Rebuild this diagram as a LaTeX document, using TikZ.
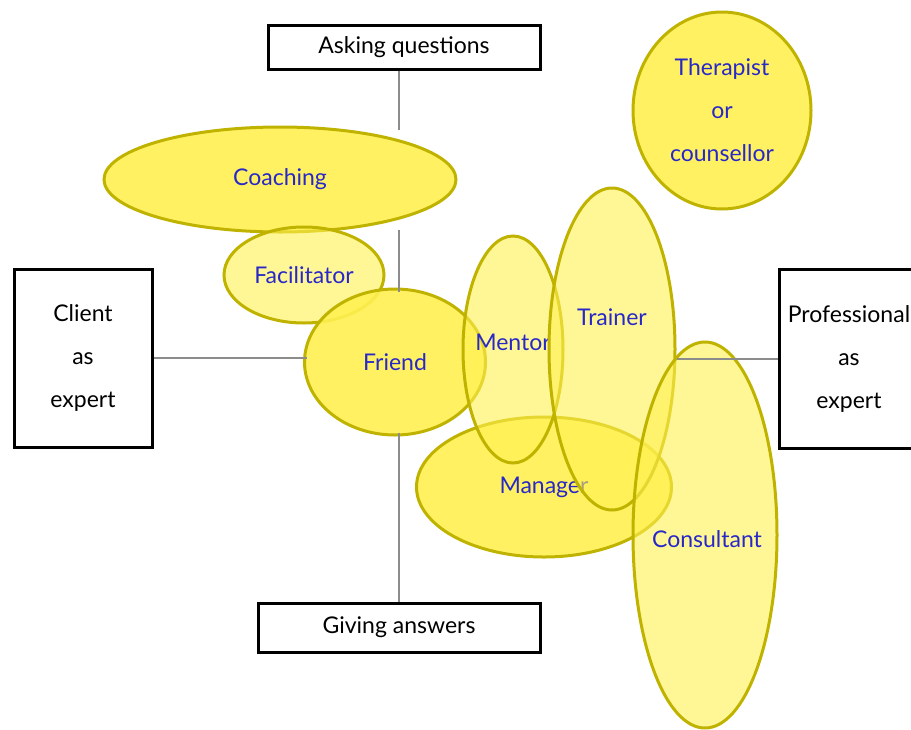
\documentclass[tikz,border=0pt]{standalone}
\usepackage{fontspec}
\setmainfont{Lato}
\usepackage{tikz}
\usetikzlibrary{positioning,shapes.geometric}
\definecolor{rolefill}{HTML}{FFF050}
\definecolor{roleline}{HTML}{BFB300}
\definecolor{roletext}{HTML}{2828C8}
\definecolor{axisline}{HTML}{8C8C8C}
\tikzset{
  pole/.style={draw=black,line width=3pt,fill=white,align=center,inner sep=0pt},
  role/.style={ellipse,draw=roleline,line width=3pt,fill=rolefill,fill opacity=0.9,
    text opacity=1,text=roletext,align=center,inner sep=0pt},
  lightrole/.style={role,fill opacity=0.6},
  axis/.style={draw=axisline,line width=2pt},
}

\begin{document}
\begin{tikzpicture}[x=1pt,y=-1pt,font=\fontsize{23}{43}\selectfont]
\useasboundingbox (0,0) rectangle (911,729);
\node[pole,minimum width=272,minimum height=44] (ask) at (404,47) {Asking questions};
\node[pole,minimum width=282,minimum height=49] (give) at (399,627.5) {Giving answers};
\node[pole,minimum width=138,minimum height=178] (client) at (83,358) {Client\\as\\expert};
\node[pole,minimum width=140,minimum height=179] (prof) at (849,358.5) {Professional\\as\\expert};
\node[role,minimum width=352,minimum height=105] (coach) at (280,179.5) {Coaching};
\node[lightrole,minimum width=160,minimum height=96] (facil) at (304,275) {Facilitator};
\node[role,minimum width=181,minimum height=146] (friend) at (395,362) {Friend};
\path[axis]
(give.north |- ask.south) edge[shorten >=-4pt] (give.north |- coach.north)
(give.north |- coach.south) edge[shorten <=-4pt,shorten >=-4pt] (give.north |- friend.north)
(give.north |- friend.south) edge[shorten <=-4pt] (give.north)
(client.east) edge[shorten >=-4pt] (client.east -| friend.west);
\node[role,minimum width=255,minimum height=140] (manager) at (544,487) {Manager};
\node[lightrole,minimum width=100,minimum height=227,label={[text=roletext,yshift=7]center:Mentor}] (mentor) at (513,349.5) {};
\node[lightrole,minimum width=126,minimum height=322,label={[text=roletext,yshift=32]center:Trainer}] (trainer) at (612,349) {};
\node[lightrole,minimum width=144,minimum height=386,label={[text=roletext,yshift=-4,xshift=2]center:Consultant}] (consult) at (705,535) {};
\path[axis] (prof.west -| trainer.east) edge (prof.west);
\node[role,minimum width=178,minimum height=197] (therap) at (722,110.5) {Therapist\\or\\counsellor};
\end{tikzpicture}
\end{document}
